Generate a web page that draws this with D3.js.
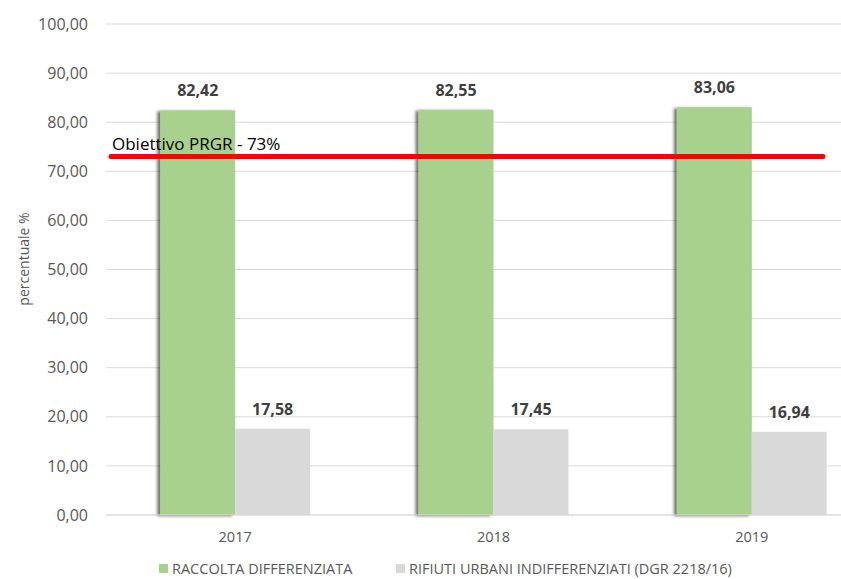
<!DOCTYPE html>
<html lang="it">
<head>
<meta charset="UTF-8" />
<title>Raccolta differenziata</title>
<script src="https://cdn.jsdelivr.net/npm/d3@7"></script>
<style>
  body { margin: 0; background: #fff; }
  svg { font-family: "Open Sans", "Noto Sans", sans-serif; }
</style>
</head>
<body>
<svg width="841" height="579"></svg>
<script>
  // dati
  const anni = ['2017', '2018', '2019']
  const serie = ['RACCOLTA DIFFERENZIATA', 'RIFIUTI URBANI INDIFFERENZIATI (DGR 2218/16)']
  const differenziata = [82.42, 82.55, 83.06]
  const indifferenziati = [17.58, 17.45, 16.94]
  const yTicks = [0, 10, 20, 30, 40, 50, 60, 70, 80, 90, 100]
  const obiettivo = 73
  const obiettivoLabel = 'Obiettivo PRGR - 73%'
  const colori = ['#a9d18e', '#d9d9d9']

  const svg = d3.select('svg')
  const fmt = (v) => v.toFixed(2).replace('.', ',')

  // il grafico originale è tagliato a destra, quindi l'area va oltre 841
  const x0 = d3.scaleBand().domain(anni).range([106, 881]).paddingInner(0.42).paddingOuter(0.21)
  const x1 = d3.scaleBand().domain(serie).range([0, x0.bandwidth()])
  const y = d3.scaleLinear().domain([0, 100]).range([515, 24])

  const defs = svg.append('defs')
  defs.append('filter').attr('id', 'ombra').attr('x', '-20%').attr('y', '-5%').attr('width', '140%').attr('height', '110%')
    .append('feDropShadow')
    .attr('dx', -3).attr('dy', 1).attr('stdDeviation', 1.6)
    .attr('flood-color', '#000').attr('flood-opacity', 0.55)

  // griglia
  svg.append('g').selectAll('line').data(yTicks).enter().append('line')
    .attr('x1', 106).attr('x2', 841)
    .attr('y1', (d) => y(d)).attr('y2', (d) => y(d))
    .attr('stroke', '#d9d9d9').attr('stroke-width', 1)

  // etichette asse y
  svg.append('g').selectAll('text').data(yTicks).enter().append('text')
    .attr('x', 88).attr('y', (d) => y(d))
    .attr('dy', '0.35em')
    .attr('text-anchor', 'end')
    .style('font-size', '16px').attr('fill', '#595959')
    .text((d) => fmt(d))

  svg.append('text')
    .attr('transform', `translate(29,259) rotate(-90)`)
    .attr('text-anchor', 'middle')
    .style('font-size', '14px').attr('fill', '#595959')
    .text('percentuale %')

  // barre
  const righe = anni.map((a, i) => ({ anno: a, valori: [differenziata[i], indifferenziati[i]] }))
  const gruppi = svg.append('g').selectAll('g').data(righe).enter().append('g')
    .attr('transform', (d) => `translate(${x0(d.anno)},0)`)

  gruppi.selectAll('rect').data((d) => d.valori.map((v, k) => ({ s: serie[k], v, k }))).enter().append('rect')
    .attr('x', (d) => x1(d.s))
    .attr('y', (d) => y(d.v))
    .attr('width', x1.bandwidth())
    .attr('height', (d) => y(0) - y(d.v))
    .attr('fill', (d) => colori[d.k])
    .attr('filter', (d) => (d.k === 0 ? 'url(#ombra)' : null))

  // le barre grigie sopra l'ombra
  gruppi.selectAll('rect').filter((d) => d.k === 1).raise()

  gruppi.selectAll('text.val').data((d) => d.valori.map((v, k) => ({ s: serie[k], v, k }))).enter().append('text')
    .attr('class', 'val')
    .attr('x', (d) => x1(d.s) + x1.bandwidth() / 2)
    .attr('y', (d) => y(d.v) - 14)
    .attr('text-anchor', 'middle')
    .style('font-size', '16px').style('font-weight', 'bold').attr('fill', '#404040')
    .text((d) => fmt(d.v))

  // linea obiettivo
  svg.append('line')
    .attr('x1', 111).attr('x2', 823)
    .attr('y1', y(obiettivo)).attr('y2', y(obiettivo))
    .attr('stroke', '#ff0000').attr('stroke-width', 5).attr('stroke-linecap', 'round')

  svg.append('text')
    .attr('x', 112).attr('y', y(obiettivo) - 7)
    .style('font-size', '17px').attr('fill', '#000')
    .text(obiettivoLabel)

  // asse x
  svg.append('line').attr('x1', 106).attr('x2', 841).attr('y1', y(0)).attr('y2', y(0)).attr('stroke', '#d9d9d9')
  svg.append('g').selectAll('text').data(anni).enter().append('text')
    .attr('x', (d) => x0(d) + x0.bandwidth() / 2)
    .attr('y', 542)
    .attr('text-anchor', 'middle')
    .style('font-size', '14.5px').attr('fill', '#595959')
    .text((d) => d)

  // legenda
  const legPos = [159, 396]
  const leg = svg.append('g').selectAll('g').data(serie).enter().append('g')
    .attr('transform', (d, i) => `translate(${legPos[i]},564)`)
  leg.append('rect').attr('width', 9).attr('height', 9).attr('fill', (d, i) => colori[i])
  leg.append('text').attr('x', 13).attr('y', 9.5)
    .style('font-size', '14.5px').attr('fill', '#595959')
    .text((d) => d)
</script>
</body>
</html>
